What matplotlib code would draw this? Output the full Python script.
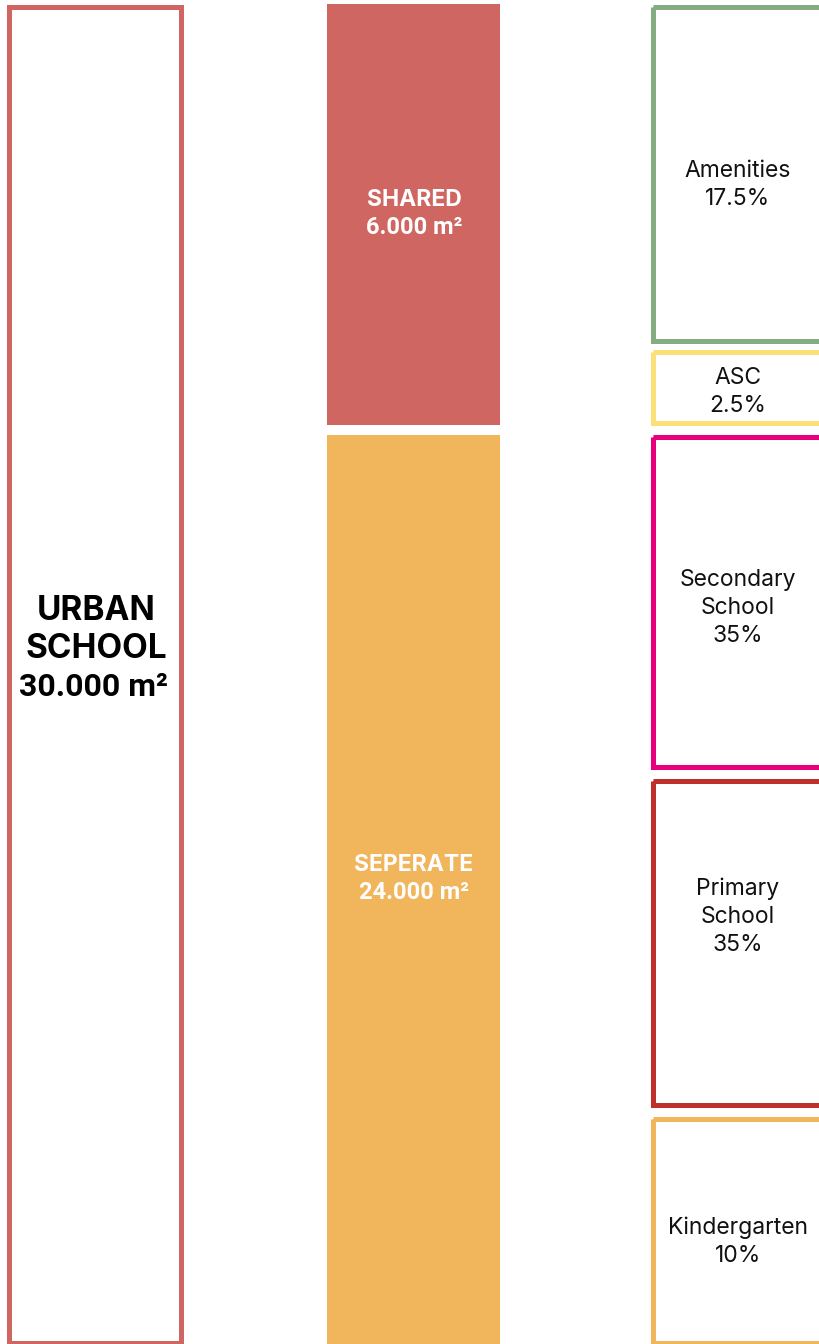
import matplotlib.pyplot as plt
from matplotlib.patches import Rectangle

# data
total_label = ['URBAN', 'SCHOOL']
total_area = '30.000 m²'
split_names = ['SHARED', 'SEPERATE']
split_area = ['6.000 m²', '24.000 m²']
use_names = ['Amenities', 'ASC', 'Secondary\nSchool', 'Primary\nSchool', 'Kindergarten']
use_share = [17.5, 2.5, 35, 35, 10]

# layout (pixel units, y down) -- boxes are not drawn to scale in the original
split_spans = [(4, 425), (435, 1344)]
split_baseline = [206, 871]
use_spans = [(6.5, 340.5), (351.5, 423), (436.5, 766.5), (780.5, 1105), (1118.5, 1342.5)]
use_text_y = [185, 392, 608, 917, 1242]

red = '#CF6662'
orange = '#F1B55B'
split_colors = [red, orange]
use_colors = ['#84AC80', '#FBE07A', '#E6007E', '#BF2F2C', orange]

plt.rcParams['font.family'] = ['Inter', 'DejaVu Sans']
num_font = ['Roboto', 'DejaVu Sans']

fig = plt.figure(figsize=(8.2, 13.44), dpi=100)
ax = fig.add_axes([0, 0, 1, 1])
ax.set_xlim(0, 820)
ax.set_ylim(1344, 0)
ax.axis('off')

lw = 3.6  # ~5 px

# whole school
ax.add_patch(Rectangle((9.5, 6.5), 171.5, 1336, fill=False, ec=red, lw=lw))
for i, word in enumerate(total_label):
    ax.text(96, 619.5 + 38 * i, word, ha='center', va='baseline',
            fontsize=24, fontweight='bold', color='black')
ax.text(94, 695.5, total_area, ha='center', va='baseline', family=num_font,
        fontsize=23, fontweight='bold', color='black')

# shared / separate
for (top, bot), yb, name, area, c in zip(split_spans, split_baseline, split_names, split_area, split_colors):
    ax.add_patch(Rectangle((327, top), 173, bot - top, fc=c, ec='none'))
    ax.text(414, yb, name, ha='center', va='baseline',
            fontsize=16.5, fontweight='bold', color='white')
    ax.text(414, yb + 28, area, ha='center', va='baseline', family=num_font,
            fontsize=17, fontweight='bold', color='white')

# uses
for (top, bot), name, share, c, ty in zip(use_spans, use_names, use_share, use_colors, use_text_y):
    ax.add_patch(Rectangle((653.5, top), 180, bot - top, fill=False, ec=c, lw=lw))
    ax.text(738, ty, f'{name}\n{share:g}%', ha='center', va='center',
            fontsize=16.5, color='#111111', linespacing=1.36)

fig.savefig('out.png', dpi=100)
